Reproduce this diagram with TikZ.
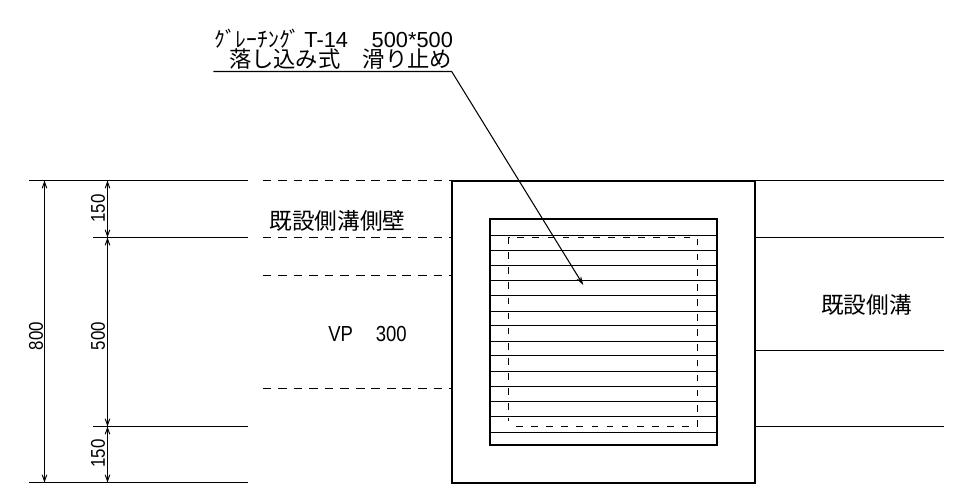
\documentclass[tikz,border=0pt]{standalone}
\usepackage{fontspec}
\setmainfont{Noto Sans CJK JP}
\newfontfamily\dimfont[FakeStretch=0.85]{Liberation Sans}
\newfontfamily\latinfont{Liberation Sans}
\usetikzlibrary{arrows.meta}
\tikzset{
	thinline/.style={line width=0.6pt},
	wallline/.style={line width=1.15pt},
	hiddenline/.style={line width=0.55pt, dash pattern=on 5pt off 3.85pt},
	gridline/.style={line width=0.55pt, dash pattern=on 3.8pt off 4.8pt},
	dimline/.style={line width=0.55pt, {Straight Barb[length=3.6pt,width=2.6pt]}-{Straight Barb[length=3.6pt,width=2.6pt]}},
	dimtext/.style={inner sep=0pt, rotate=90, font=\dimfont\fontsize{11.3}{12}\selectfont},
	jptext/.style={inner sep=0pt, font=\fontsize{12.9}{14}\selectfont},
}
\begin{document}
\begin{tikzpicture}[x=0.02cm, y=-0.02cm]
	\useasboundingbox (0, 0) rectangle (954, 495);

	%%%%% existing ditch lines
	\draw[thinline] (29, 180.5) -- (248, 180.5);
	\draw[thinline] (93, 237.5) -- (248, 237.5);
	\draw[thinline] (93, 426.5) -- (248, 426.5);
	\draw[thinline] (29, 482.5) -- (248, 482.5);
	\foreach \ypos in {180.5, 237.5, 350.5, 426.5}
		\draw[thinline] (755, \ypos) -- (944, \ypos);
	\foreach \ypos in {180.5, 237.5, 275.5, 388.5}
		\draw[hiddenline] (262.5, \ypos) -- (451.5, \ypos);

	%%%%% basin and grating
	\draw[wallline] (452, 181) rectangle (755, 483);
	\foreach \ypos in {235.5, 250.5, 265.5, 280.5, 295.5, 311.5, 325.5, 341.5, 355.5, 371.5, 386.5, 401.5, 416.5, 432.5}
		\draw[thinline] (489.5, \ypos) -- (716.5, \ypos);
	\draw[wallline] (490, 219) rectangle (717, 445);
	\draw[gridline] (516, 426.5) -- (697.5, 426.5) -- (697.5, 237.5) -- (508.5, 237.5) -- (508.5, 421);

	%%%%% dimensions
	\draw[dimline] (44.5, 180.5) -- (44.5, 482.5);
	\draw[dimline] (107.5, 180.5) -- (107.5, 237.5);
	\draw[dimline] (107.5, 237.5) -- (107.5, 426.5);
	\draw[dimline] (107.5, 426.5) -- (107.5, 482.5);
	\node[dimtext] (dimall) at (36, 336) {800};
	\node[dimtext] (dimtop) at (98, 208.5) {150};
	\node[dimtext] (dimmid) at (98, 336) {500};
	\node[dimtext] (dimbot) at (98, 453.5) {150};

	%%%%% labels
	\node[jptext] (wall) at (337.5, 221) {既設側溝側壁};
	\node[jptext] (ditch) at (866.5, 304.5) {既設側溝};
	\node[inner sep=0pt, font=\dimfont\fontsize{12.4}{14}\selectfont] (pipe) at (367.5, 333.5) {VP\hspace{1.05em}300};

	%%%%% leader
	\node[anchor=base west, inner sep=0pt, font=\fontsize{12.3}{14}\selectfont] (gratename) at (214, 47.5) {ｸﾞﾚｰﾁﾝｸﾞ\,{\latinfont\fontsize{12.4}{14}\selectfont T-14\hspace{1.09em}500*500}};
	\node[inner sep=0pt, font=\fontsize{12.7}{14}\selectfont, anchor=base east] (gratenote) at (452.5, 67.5) {落し込み式　滑り止め};
	\coordinate (leadleft) at (213.3, 71.5);
	\coordinate (leadknee) at (451.7, 71.5);
	\coordinate (leadtip) at (583.3, 285);
	\draw[thinline, -{Stealth[length=5pt,width=3pt]}] (leadleft) -- (leadknee) -- (leadtip);
\end{tikzpicture}
\end{document}
